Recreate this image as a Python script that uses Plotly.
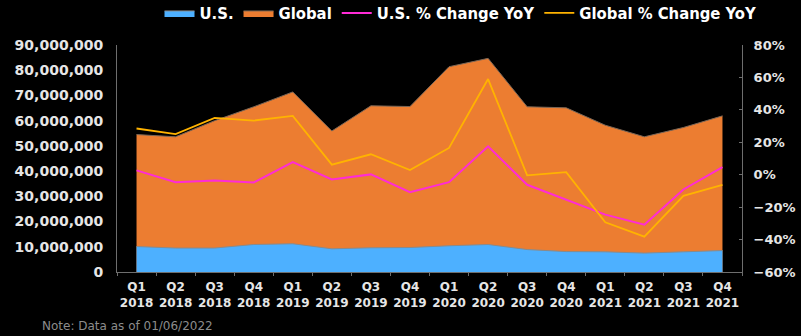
import plotly.graph_objects as go

quarters = ["Q1<br>2018", "Q2<br>2018", "Q3<br>2018", "Q4<br>2018",
            "Q1<br>2019", "Q2<br>2019", "Q3<br>2019", "Q4<br>2019",
            "Q1<br>2020", "Q2<br>2020", "Q3<br>2020", "Q4<br>2020",
            "Q1<br>2021", "Q2<br>2021", "Q3<br>2021", "Q4<br>2021"]

us_values = [10.1e6, 9.5e6, 9.5e6, 10.9e6, 11.2e6, 9.2e6, 9.6e6, 9.7e6,
             10.4e6, 10.9e6, 8.9e6, 8.1e6, 8.0e6, 7.5e6, 8.0e6, 8.5e6]
global_values = [54.5e6, 53.6e6, 60.0e6, 65.5e6, 71.4e6, 55.9e6, 65.9e6, 65.6e6,
                 81.4e6, 84.7e6, 65.5e6, 65.1e6, 58.2e6, 53.6e6, 57.3e6, 61.9e6]
us_yoy = [2.7, -4.6, -3.5, -4.8, 7.8, -2.9, 0.2, -10.8,
          -4.6, 17.5, -6.2, -15.3, -24.6, -30.8, -9.1, 4.7]
global_yoy = [28.5, 25.0, 35.0, 33.4, 36.3, 6.2, 12.6, 2.9,
              16.5, 59.0, -0.4, 1.6, -29.3, -38.2, -13.0, -6.2]

BLUE = "#4DB0FF"
ORANGE = "#EC7D31"
MAGENTA = "#FF2BD6"
GOLD = "#FFB300"
TICK = "#E6E6E6"
AXIS = "#6E6E6E"

fig = go.Figure()
fig.add_trace(go.Scatter(x=quarters, y=global_values, name="Global", mode="lines",
                         fill="tozeroy", fillcolor=ORANGE,
                         line=dict(color="#7A6656", width=1), legendrank=2))
fig.add_trace(go.Scatter(x=quarters, y=us_values, name="U.S.", mode="lines",
                         fill="tozeroy", fillcolor=BLUE,
                         line=dict(color="#8A8A8A", width=1), legendrank=1))
fig.add_trace(go.Scatter(x=quarters, y=us_yoy, name="U.S. % Change YoY", mode="lines",
                         line=dict(color=MAGENTA, width=2), yaxis="y2", legendrank=3))
fig.add_trace(go.Scatter(x=quarters, y=global_yoy, name="Global % Change YoY", mode="lines",
                         line=dict(color=GOLD, width=1.8), yaxis="y2", legendrank=4))

fig.update_layout(
    width=801, height=336,
    margin=dict(l=117, r=59, t=45, b=64, pad=0, autoexpand=False),
    paper_bgcolor="black", plot_bgcolor="black",
    font=dict(family="DejaVu Sans", color=TICK),
    showlegend=True,
    legend=dict(orientation="h", x=0.068, xanchor="left", y=1.14, yanchor="middle",
                font=dict(family="DejaVu Sans Condensed", size=16.5, color="white", weight="bold"),
                bgcolor="rgba(0,0,0,0)", itemwidth=30, tracegroupgap=0),
    xaxis=dict(type="category", range=[-0.5, 15.5], showgrid=False, tickangle=0,
               showline=True, linecolor=AXIS, linewidth=1, automargin=False,
               ticks="outside", tickson="boundaries", ticklen=3, tickcolor=AXIS,
               ticklabelstandoff=4,
               tickfont=dict(family="DejaVu Sans", size=12, color=TICK, weight="bold"),
               zeroline=False),
    yaxis=dict(range=[0, 90e6], dtick=10e6, tickformat=",", showgrid=False,
               showline=True, linecolor=AXIS, linewidth=1, ticks="", zeroline=False,
               ticklabelstandoff=10, automargin=False,
               tickfont=dict(family="DejaVu Sans", size=14, color=TICK, weight="bold")),
    yaxis2=dict(range=[-60, 80], dtick=20, ticksuffix="%", overlaying="y", side="right",
                showgrid=False, showline=True, linecolor=AXIS, linewidth=1,
                ticks="inside", ticklen=3, tickcolor=AXIS, zeroline=False,
                ticklabelstandoff=8, automargin=False,
                tickfont=dict(family="DejaVu Sans", size=13, color=TICK, weight="bold")),
    annotations=[dict(text="Note: Data as of 01/06/2022", xref="paper", yref="paper",
                      x=-0.1232, y=-0.236, xanchor="left", yanchor="middle", showarrow=False,
                      font=dict(family="DejaVu Sans", size=12, color="#8C8C8C"))],
)

fig.write_html("out.html")
